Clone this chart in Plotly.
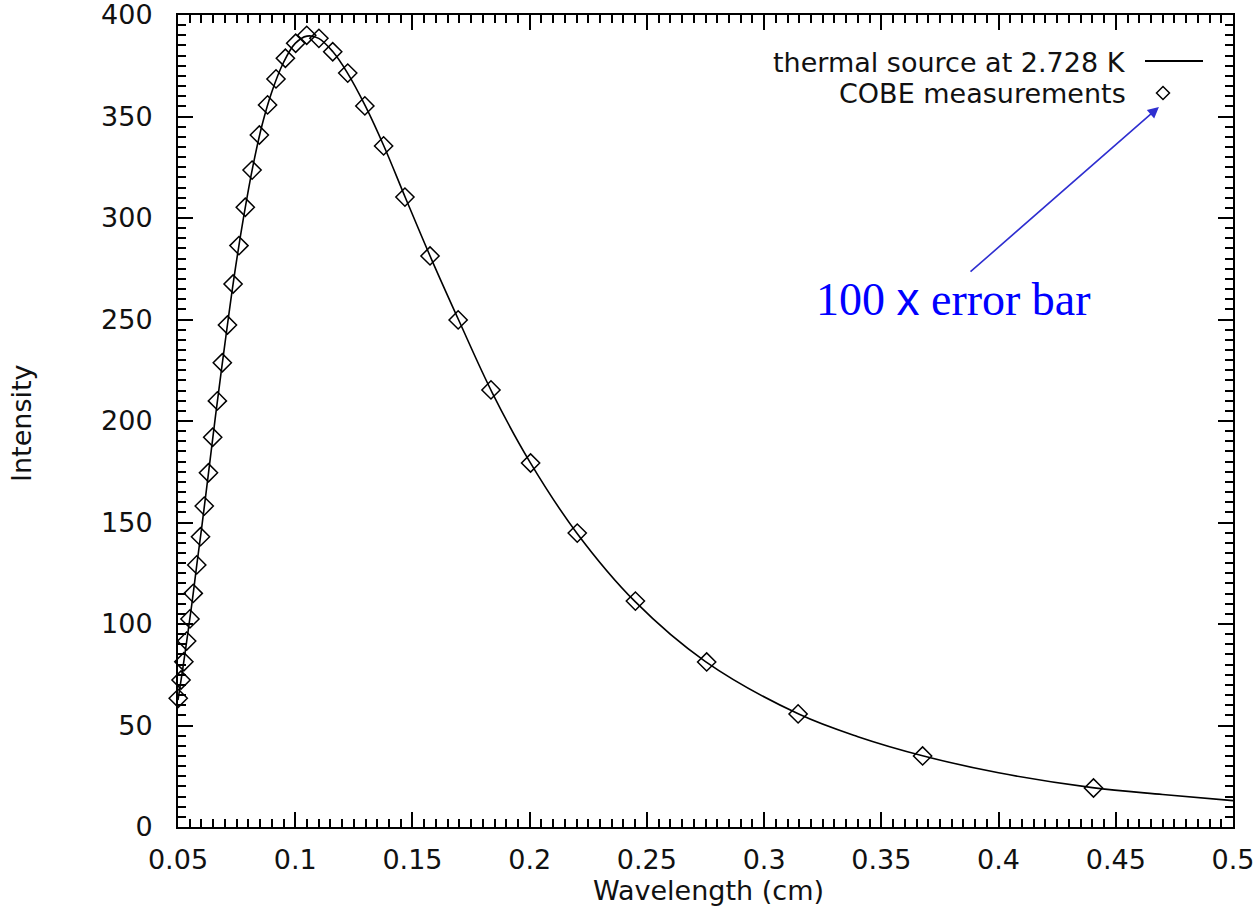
import plotly.graph_objects as go

cobe_wl = [0.0501, 0.0513, 0.0525, 0.0537, 0.0551, 0.0565, 0.0580, 0.0596, 0.0612,
           0.0630, 0.0648, 0.0668, 0.0689, 0.0711, 0.0735, 0.0760, 0.0787, 0.0816,
           0.0847, 0.0882, 0.0918, 0.0958, 0.1002, 0.1049, 0.1101, 0.1160, 0.1224,
           0.1297, 0.1377, 0.1468, 0.1575, 0.1695, 0.1835, 0.2004, 0.2203, 0.2451,
           0.2755, 0.3145, 0.3676, 0.4405]
cobe_int = [63.4, 72.4, 81.4, 91.6, 102.5, 115.1, 129.1, 143.0, 158.1,
            174.5, 192.0, 209.9, 228.7, 247.3, 267.5, 286.4, 305.3, 323.6,
            340.9, 355.7, 368.5, 378.7, 386.1, 390.0, 388.5, 381.9, 371.4,
            355.2, 335.5, 310.3, 281.3, 249.8, 215.3, 179.3, 144.8, 111.3,
            81.3, 55.7, 35.0, 19.2]

# Thermal source curve
curve_wl = [0.050, 0.052, 0.054, 0.056, 0.058, 0.060, 0.063, 0.066, 0.070, 0.074,
            0.078, 0.082, 0.086, 0.090, 0.095, 0.100, 0.105, 0.110, 0.116, 0.122,
            0.130, 0.138, 0.147, 0.158, 0.170, 0.184, 0.200, 0.220, 0.245, 0.275,
            0.315, 0.340, 0.368, 0.400, 0.440, 0.470, 0.500]
curve_int = [62.5, 77.6, 93.9, 110.6, 129.0, 146.5, 174.3, 202.5, 238.0, 271.5,
             300.5, 325.8, 346.4, 362.1, 376.6, 386.0, 389.6, 388.5, 382.0, 372.0,
             355.0, 335.0, 310.0, 280.0, 249.0, 214.0, 180.0, 145.0, 111.0, 81.5,
             55.5, 44.5, 35.0, 26.7, 19.4, 16.0, 13.0]

x_ticks = [0.05, 0.1, 0.15, 0.2, 0.25, 0.3, 0.35, 0.4, 0.45, 0.5]
x_tick_labels = ["0.05", "0.1", "0.15", "0.2", "0.25", "0.3", "0.35", "0.4", "0.45", "0.5"]
y_ticks = [0, 50, 100, 150, 200, 250, 300, 350, 400]

FONT = "DejaVu Sans"
W, H = 1260, 908
L, R, T, B = 178, 27, 15, 81
PW, PH = W - L - R, H - T - B


def px(xp):
    return (xp - L) / PW


def py(yp):
    return (H - B - yp) / PH


fig = go.Figure()
fig.add_trace(go.Scatter(x=curve_wl, y=curve_int, mode="lines",
                         line=dict(color="black", width=1.6, shape="spline"),
                         showlegend=False, hoverinfo="skip"))
fig.add_trace(go.Scatter(x=cobe_wl, y=cobe_int, mode="markers",
                         marker=dict(symbol="diamond-open", size=14, color="black",
                                     line=dict(color="black", width=1.5)),
                         cliponaxis=False, showlegend=False))

axis_common = dict(showgrid=False, zeroline=False, showline=True, linecolor="black",
                   linewidth=2, ticks="inside", ticklen=15, tickwidth=1.5,
                   tickcolor="black", mirror="allticks", ticklabeloverflow="allow",
                   automargin=False,
                   tickfont=dict(family=FONT, size=27, color="#111"))

fig.update_xaxes(range=[0.05, 0.5], tickmode="array", tickvals=x_ticks,
                 ticktext=x_tick_labels, ticklabelstandoff=8,
                 minor=dict(dtick=0.005, tick0=0.05, ticks="inside", ticklen=8,
                            tickwidth=1.5, tickcolor="black"),
                 **axis_common)
fig.update_yaxes(range=[0, 400], tickmode="array", tickvals=y_ticks,
                 ticklabelstandoff=18,
                 minor=dict(dtick=5, tick0=0, ticks="inside", ticklen=8,
                            tickwidth=1.5, tickcolor="black"),
                 **axis_common)

annotations = [
    dict(text="Intensity", x=px(21), y=py(423), xref="paper", yref="paper",
         textangle=-90, showarrow=False, font=dict(family=FONT, size=27, color="#111"),
         xanchor="center", yanchor="middle"),
    dict(text="Wavelength (cm)", x=px(708), y=py(890), xref="paper", yref="paper",
         showarrow=False, font=dict(family=FONT, size=27, color="#111"),
         xanchor="center", yanchor="middle"),
    dict(text="thermal source at 2.728 K", x=px(1128), y=py(62), xref="paper", yref="paper",
         showarrow=False, font=dict(family=FONT, size=27, color="#111"),
         xanchor="right", yanchor="middle"),
    dict(text="COBE measurements", x=px(1128), y=py(93), xref="paper", yref="paper",
         showarrow=False, font=dict(family=FONT, size=27, color="#111"),
         xanchor="right", yanchor="middle"),
    dict(text="100 <span style='font-family:Liberation Sans'>x</span> error bar",
         x=px(953), y=py(299), xref="paper", yref="paper", showarrow=False,
         font=dict(family="Liberation Serif", size=46, color="#0000ff"),
         xanchor="center", yanchor="middle"),
    dict(text="", x=0.4684, y=354.7, xref="x", yref="y", ax=0.3874, ay=272.9,
         axref="x", ayref="y", showarrow=True, arrowhead=2, arrowsize=1.4,
         arrowwidth=1.6, arrowcolor="#2f2fd0", standoff=0),
]

hx, hy = 6.5 / PW, 6.5 / PH
cx, cy = px(1163), py(93)
shapes = [
    dict(type="line", xref="paper", yref="paper", x0=px(1145), x1=px(1203),
         y0=py(61), y1=py(61), line=dict(color="black", width=1.8)),
    dict(type="path", xref="paper", yref="paper",
         path=f"M {cx-hx},{cy} L {cx},{cy+hy} L {cx+hx},{cy} L {cx},{cy-hy} Z",
         line=dict(color="black", width=1.5)),
]

fig.update_layout(width=W, height=H, margin=dict(l=L, r=R, t=T, b=B),
                  plot_bgcolor="white", paper_bgcolor="white",
                  annotations=annotations, shapes=shapes, showlegend=False)

fig.write_html("out.html")
